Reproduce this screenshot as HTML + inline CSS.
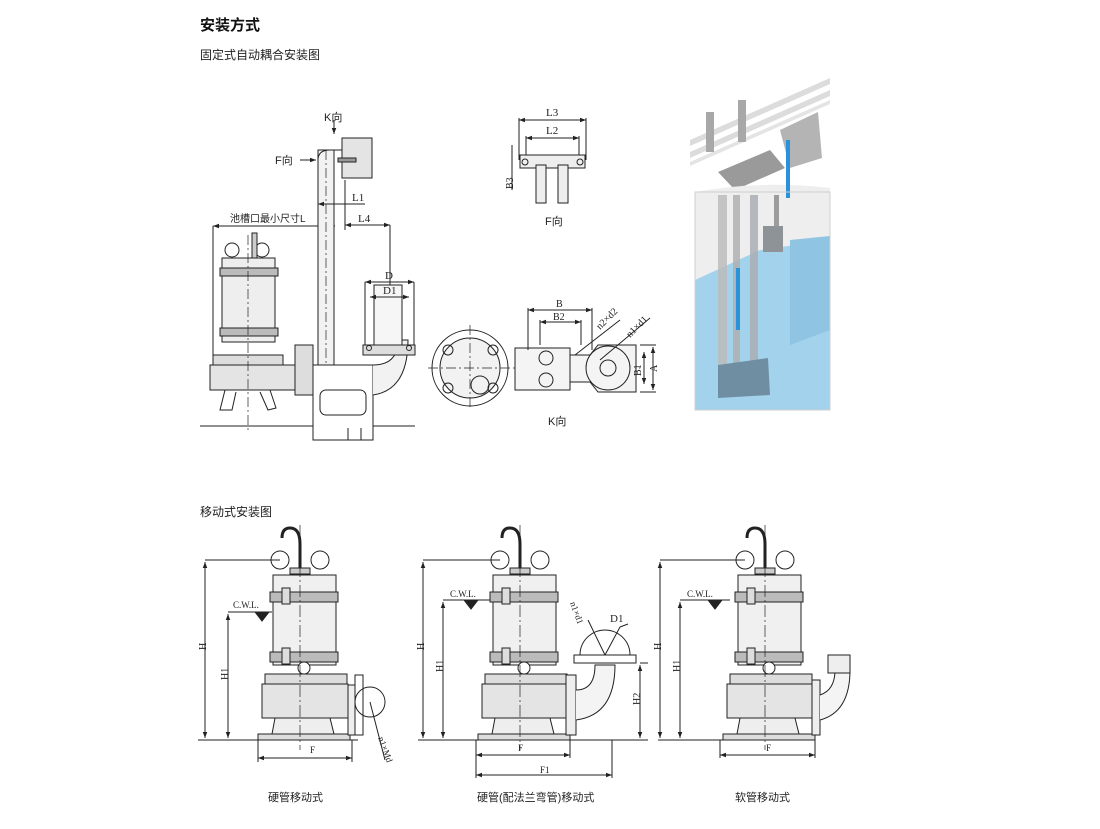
<!DOCTYPE html>
<html><head><meta charset="utf-8"><style>
body{margin:0;background:#fff;}
svg{display:block;font-family:"Liberation Serif","Noto Sans CJK SC",serif;}
.c{font-family:"Liberation Sans","Noto Sans CJK SC",sans-serif;}
</style></head><body>
<svg width="1100" height="829" viewBox="0 0 1100 829" xmlns="http://www.w3.org/2000/svg">
<defs>
<marker id="a" viewBox="0 0 8 8" refX="8" refY="4" markerWidth="6" markerHeight="6" orient="auto-start-reverse"><path d="M0,1 L8,4 L0,7z" fill="#222"/></marker>
<g id="pump" stroke="#222" stroke-width="1" fill="#fff">
  <path d="M0,-168 L0,-196 Q0,-212 -10,-212 Q-18,-212 -18,-202" fill="none" stroke-width="3"/>
  <circle cx="-20" cy="-180" r="9"/><circle cx="20" cy="-180" r="9"/>
  <rect x="-10" y="-172" width="20" height="6" fill="#ccc"/>
  <rect x="-27" y="-165" width="63" height="90" fill="#f0f0f0"/>
  <rect x="-30" y="-148" width="68" height="10" fill="#bbb"/>
  <rect x="-30" y="-88" width="68" height="10" fill="#bbb"/>
  <rect x="-18" y="-152" width="8" height="16" fill="#ddd"/>
  <rect x="-18" y="-92" width="8" height="16" fill="#ddd"/>
  <circle cx="4" cy="-72" r="6"/>
  <rect x="-35" y="-66" width="82" height="10" fill="#ddd"/>
  <path d="M-38,-56 L48,-56 L52,-22 L-38,-22 Z" fill="#e4e4e4"/>
  <path d="M-25,-22 L30,-22 L34,-6 L-28,-6Z" fill="#eee"/>
  <rect x="-42" y="-6" width="92" height="6" fill="#ddd"/>
  <line x1="0" y1="-215" x2="0" y2="10" stroke-dasharray="12,3,2,3" stroke-width=".7"/>
</g>
</defs>

<text x="200" y="30" class="c" font-size="15" font-weight="bold" fill="#111">安装方式</text>
<text x="200" y="59" class="c" font-size="12" fill="#222">固定式自动耦合安装图</text>
<text x="200" y="516" class="c" font-size="12" fill="#222">移动式安装图</text>

<!-- Top-left fixed install -->
<g stroke="#222" fill="none" stroke-width="1">
  <line x1="200" y1="426" x2="415" y2="426"/>
  <line x1="213" y1="226" x2="335" y2="226" marker-start="url(#a)" marker-end="url(#a)"/>
  <line x1="213" y1="226" x2="213" y2="380"/>
  <text x="230" y="222" class="c" font-size="10" fill="#222" stroke="none">池槽口最小尺寸L</text>
  <circle cx="232" cy="250" r="7"/><circle cx="262" cy="250" r="7"/>
  <rect x="252" y="233" width="5" height="25" fill="#ccc"/>
  <rect x="222" y="258" width="53" height="84" fill="#eee"/>
  <rect x="220" y="268" width="58" height="8" fill="#bbb"/>
  <rect x="220" y="328" width="58" height="8" fill="#bbb"/>
  <rect x="213" y="355" width="70" height="10" fill="#ddd"/>
  <rect x="210" y="365" width="95" height="25" fill="#e4e4e4"/>
  <path d="M225,390 L220,410 L232,410 L236,392 M260,392 L268,410 L276,408 L270,390"/>
  <line x1="248" y1="235" x2="248" y2="430" stroke-dasharray="10,3,2,3" stroke-width=".7"/>
  <rect x="295" y="345" width="18" height="50" fill="#ddd"/>
  <rect x="318" y="150" width="16" height="245" fill="#f2f2f2"/>
  <line x1="326" y1="150" x2="326" y2="440" stroke-dasharray="10,3,2,3" stroke-width=".7"/>
  <path d="M318,160 Q318,150 330,150 L345,150"/>
  <path d="M342,138 L372,138 L372,178 L342,178 Z" fill="#e4e4e4"/>
  <rect x="338" y="158" width="18" height="4" fill="#999"/>
  <line x1="300" y1="160" x2="316" y2="160" marker-end="url(#a)"/>
  <line x1="334" y1="120" x2="334" y2="134" marker-end="url(#a)"/>
  <rect x="313" y="365" width="60" height="75" fill="#fff"/>
  <rect x="320" y="390" width="46" height="25" rx="6"/>
  <path d="M373,365 Q398,365 398,340 L408,340 Q408,390 373,395" fill="#f2f2f2"/>
  <rect x="363" y="345" width="52" height="10" fill="#ddd"/>
  <rect x="374" y="285" width="28" height="60" fill="#f6f6f6"/>
  <line x1="345" y1="204" x2="318" y2="204" marker-end="url(#a)"/>
  <line x1="345" y1="204" x2="365" y2="204"/>
  <line x1="345" y1="180" x2="345" y2="230"/>
  <line x1="345" y1="225" x2="390" y2="225" marker-start="url(#a)" marker-end="url(#a)"/>
  <line x1="390" y1="225" x2="390" y2="285"/>
  <line x1="365" y1="282" x2="414" y2="282" marker-start="url(#a)" marker-end="url(#a)"/>
  <line x1="365" y1="282" x2="365" y2="345"/><line x1="414" y1="282" x2="414" y2="345"/>
  <line x1="370" y1="297" x2="409" y2="297" marker-start="url(#a)" marker-end="url(#a)"/>
  <line x1="348" y1="428" x2="348" y2="440"/><line x1="361" y1="428" x2="361" y2="440"/>
  <circle cx="369" cy="348" r="2.5"/><circle cx="409" cy="348" r="2.5"/>
</g>
<g font-size="11" fill="#222">
  <text x="324" y="121" class="c">K向</text>
  <text x="275" y="164" class="c">F向</text>
  <text x="352" y="201">L1</text>
  <text x="358" y="222">L4</text>
  <text x="385" y="279">D</text>
  <text x="383" y="294">D1</text>
</g>

<!-- F view -->
<g stroke="#222" fill="none" stroke-width="1">
  <line x1="519" y1="120" x2="586" y2="120" marker-start="url(#a)" marker-end="url(#a)"/>
  <line x1="526" y1="138" x2="579" y2="138" marker-start="url(#a)" marker-end="url(#a)"/>
  <line x1="519" y1="118" x2="519" y2="160"/><line x1="586" y1="118" x2="586" y2="160"/>
  <line x1="526" y1="136" x2="526" y2="160"/><line x1="579" y1="136" x2="579" y2="160"/>
  <path d="M520,155 L585,155 L585,168 L520,168 Z" fill="#eee"/>
  <circle cx="525" cy="162" r="3"/><circle cx="580" cy="162" r="3"/>
  <rect x="536" y="165" width="10" height="38" fill="#eee"/>
  <rect x="558" y="165" width="10" height="38" fill="#eee"/>
  <line x1="512" y1="145" x2="512" y2="190"/>
</g>
<text x="504" y="190" font-size="10" fill="#222" transform="rotate(-90 508 185)">B3</text>
<text x="546" y="116" font-size="11" fill="#222">L3</text>
<text x="546" y="134" font-size="11" fill="#222">L2</text>
<text x="545" y="225" font-size="11" fill="#222" class="c">F向</text>

<!-- K view -->
<g stroke="#222" fill="none" stroke-width="1">
  <circle cx="470" cy="368" r="38"/>
  <circle cx="470" cy="368" r="30" fill="#f2f2f2"/>
  <circle cx="480" cy="385" r="9"/>
  <circle cx="448" cy="350" r="5"/><circle cx="493" cy="350" r="5"/><circle cx="448" cy="388" r="5"/><circle cx="493" cy="388" r="5"/>
  <line x1="428" y1="368" x2="640" y2="368" stroke-dasharray="10,3,2,3" stroke-width=".7"/>
  <line x1="470" y1="325" x2="470" y2="410" stroke-dasharray="10,3,2,3" stroke-width=".7"/>
  <rect x="515" y="348" width="55" height="42" fill="#f4f4f4"/>
  <circle cx="546" cy="358" r="7"/><circle cx="546" cy="380" r="7"/>
  <path d="M570,355 L590,355 L598,345 L636,345 L636,392 L598,392 L590,382 L570,382Z" fill="#f4f4f4"/>
  <circle cx="608" cy="368" r="22"/><circle cx="608" cy="368" r="8"/>
  <line x1="528" y1="310" x2="592" y2="310" marker-start="url(#a)" marker-end="url(#a)"/>
  <line x1="540" y1="322" x2="581" y2="322" marker-start="url(#a)" marker-end="url(#a)"/>
  <line x1="528" y1="308" x2="528" y2="350"/><line x1="592" y1="308" x2="592" y2="350"/>
  <line x1="540" y1="320" x2="540" y2="345"/><line x1="581" y1="320" x2="581" y2="345"/>
  <line x1="575" y1="355" x2="620" y2="320"/><line x1="600" y1="360" x2="650" y2="318"/>
  <line x1="640" y1="345" x2="656" y2="345"/><line x1="640" y1="392" x2="656" y2="392"/>
  <line x1="653" y1="347" x2="653" y2="390" marker-start="url(#a)" marker-end="url(#a)"/>
  <line x1="644" y1="352" x2="644" y2="384" marker-start="url(#a)" marker-end="url(#a)"/>
</g>
<g font-size="10" fill="#222">
  <text x="556" y="307">B</text><text x="553" y="320">B2</text>
  <text x="600" y="330" transform="rotate(-45 600 330)">n2×d2</text>
  <text x="630" y="338" transform="rotate(-45 630 338)">n1×d1</text>
  <text x="641" y="376" transform="rotate(-90 641 376)">B1</text>
  <text x="657" y="372" transform="rotate(-90 657 372)">A</text>
  <text x="548" y="425" class="c" font-size="11">K向</text>
</g>

<!-- photo -->
<g>
  <rect x="690" y="80" width="145" height="335" fill="#fff"/>
  <path d="M690,140 L830,78 L830,84 L690,146Z" fill="#dcdcdc"/>
  <path d="M690,152 L830,90 L830,96 L690,158Z" fill="#dcdcdc"/>
  <path d="M690,162 L830,100 L830,104 L690,166Z" fill="#e4e4e4"/>
  <path d="M718,172 L770,150 L785,168 L735,190Z" fill="#9a9a9a"/>
  <path d="M780,130 L818,112 L822,158 L790,168Z" fill="#b4b4b4"/>
  <rect x="706" y="112" width="8" height="40" fill="#a8a8a8"/>
  <rect x="738" y="100" width="8" height="42" fill="#a8a8a8"/>
  <path d="M695,192 Q760,180 830,188 L830,410 L695,410Z" fill="#eeeeee"/>
  <path d="M695,280 L760,250 L830,240 L830,410 L695,410Z" fill="#a3d2ec"/>
  <path d="M790,240 L830,236 L830,330 L790,345Z" fill="#8fc4e2"/>
  <rect x="718" y="195" width="9" height="185" fill="#bcbcbc" opacity=".85"/>
  <rect x="733" y="195" width="7" height="180" fill="#b0b0b0" opacity=".85"/>
  <rect x="750" y="195" width="8" height="185" fill="#a9aeb4" opacity=".85"/>
  <rect x="774" y="195" width="5" height="50" fill="#9c9c9c"/>
  <rect x="763" y="226" width="20" height="26" fill="#8e9398"/>
  <path d="M718,365 L768,358 L770,395 L718,398Z" fill="#6f8ea2"/>
  <rect x="736" y="268" width="4" height="62" fill="#2a92d8"/>
  <rect x="786" y="140" width="4" height="58" fill="#2a92d8"/>
  <rect x="695" y="192" width="135" height="218" fill="none" stroke="#cfcfcf" stroke-width="1"/>
</g>

<!-- bottom pumps -->
<g stroke="#222" stroke-width="1" fill="none">
  <line x1="198" y1="740" x2="358" y2="740"/>
  <line x1="418" y1="740" x2="648" y2="740"/>
  <line x1="658" y1="740" x2="812" y2="740"/>
</g>
<use href="#pump" x="300" y="740"/>
<use href="#pump" x="520" y="740"/>
<use href="#pump" x="765" y="740"/>

<g stroke="#222" stroke-width="1" fill="none">
  <line x1="205" y1="560" x2="280" y2="560"/>
  <line x1="205" y1="562" x2="205" y2="738" marker-start="url(#a)" marker-end="url(#a)"/>
  <line x1="228" y1="614" x2="228" y2="738" marker-start="url(#a)" marker-end="url(#a)"/>
  <line x1="228" y1="612" x2="272" y2="612"/>
  <path d="M255,612 L269,612 L262,621Z" fill="#222"/>
  <rect x="348" y="685" width="10" height="50" fill="#eee"/>
  <rect x="355" y="675" width="8" height="60" fill="#fff"/>
  <circle cx="370" cy="702" r="15"/>
  <line x1="370" y1="702" x2="385" y2="760"/>
  <line x1="258" y1="740" x2="258" y2="762"/><line x1="352" y1="740" x2="352" y2="762"/>
  <line x1="258" y1="758" x2="352" y2="758" marker-start="url(#a)" marker-end="url(#a)"/>
  <line x1="423" y1="560" x2="500" y2="560"/>
  <line x1="423" y1="562" x2="423" y2="738" marker-start="url(#a)" marker-end="url(#a)"/>
  <line x1="443" y1="602" x2="443" y2="738" marker-start="url(#a)" marker-end="url(#a)"/>
  <line x1="443" y1="600" x2="490" y2="600"/>
  <path d="M464,600 L478,600 L471,609Z" fill="#222"/>
  <rect x="566" y="675" width="10" height="60" fill="#eee"/>
  <path d="M576,690 Q595,690 595,665 L615,665 Q615,715 576,720" fill="#f4f4f4"/>
  <rect x="574" y="655" width="62" height="8" fill="#fff"/>
  <path d="M580,655 A25,25 0 0 1 630,655"/>
  <line x1="605" y1="655" x2="588" y2="620"/><line x1="605" y1="655" x2="620" y2="627"/>
  <line x1="620" y1="627" x2="628" y2="624"/>
  <line x1="640" y1="663" x2="648" y2="663"/>
  <line x1="640" y1="665" x2="640" y2="738" marker-start="url(#a)" marker-end="url(#a)"/>
  <line x1="476" y1="740" x2="476" y2="778"/><line x1="570" y1="740" x2="570" y2="758"/><line x1="612" y1="740" x2="612" y2="778"/>
  <line x1="476" y1="755" x2="570" y2="755" marker-start="url(#a)" marker-end="url(#a)"/>
  <line x1="476" y1="775" x2="612" y2="775" marker-start="url(#a)" marker-end="url(#a)"/>
  <line x1="660" y1="560" x2="745" y2="560"/>
  <line x1="660" y1="562" x2="660" y2="738" marker-start="url(#a)" marker-end="url(#a)"/>
  <line x1="680" y1="602" x2="680" y2="738" marker-start="url(#a)" marker-end="url(#a)"/>
  <line x1="680" y1="600" x2="730" y2="600"/>
  <path d="M708,600 L722,600 L715,609Z" fill="#222"/>
  <rect x="812" y="680" width="8" height="55" fill="#eee"/>
  <path d="M820,695 Q835,690 835,670 L850,670 Q850,712 820,720" fill="#f4f4f4"/>
  <rect x="828" y="655" width="22" height="18" fill="#eee"/>
  <line x1="720" y1="740" x2="720" y2="758"/><line x1="815" y1="740" x2="815" y2="758"/>
  <line x1="720" y1="755" x2="815" y2="755" marker-start="url(#a)" marker-end="url(#a)"/>
</g>
<g font-size="9" fill="#222">
  <text x="233" y="608">C.W.L.</text>
  <text x="450" y="597">C.W.L.</text>
  <text x="687" y="597">C.W.L.</text>
  <text x="200" y="650" transform="rotate(-90 203 647)" font-size="10">H</text>
  <text x="222" y="680" transform="rotate(-90 225 677)" font-size="10">H1</text>
  <text x="418" y="650" transform="rotate(-90 421 647)" font-size="10">H</text>
  <text x="437" y="672" transform="rotate(-90 440 669)" font-size="10">H1</text>
  <text x="634" y="705" transform="rotate(-90 637 702)" font-size="10">H2</text>
  <text x="655" y="650" transform="rotate(-90 658 647)" font-size="10">H</text>
  <text x="674" y="672" transform="rotate(-90 677 669)" font-size="10">H1</text>
  <text x="378" y="738" transform="rotate(70 378 738)">n1×Md</text>
  <text x="570" y="603" transform="rotate(70 570 603)">n1×d1</text>
  <text x="610" y="622" font-size="11">D1</text>
  <text x="310" y="753">F</text><text x="518" y="751">F</text><text x="540" y="773">F1</text><text x="766" y="751">F</text>
</g>
<g class="c" font-size="11" fill="#222">
  <text x="268" y="801">硬管移动式</text>
  <text x="477" y="801">硬管(配法兰弯管)移动式</text>
  <text x="735" y="801">软管移动式</text>
</g>
</svg>
</body></html>
